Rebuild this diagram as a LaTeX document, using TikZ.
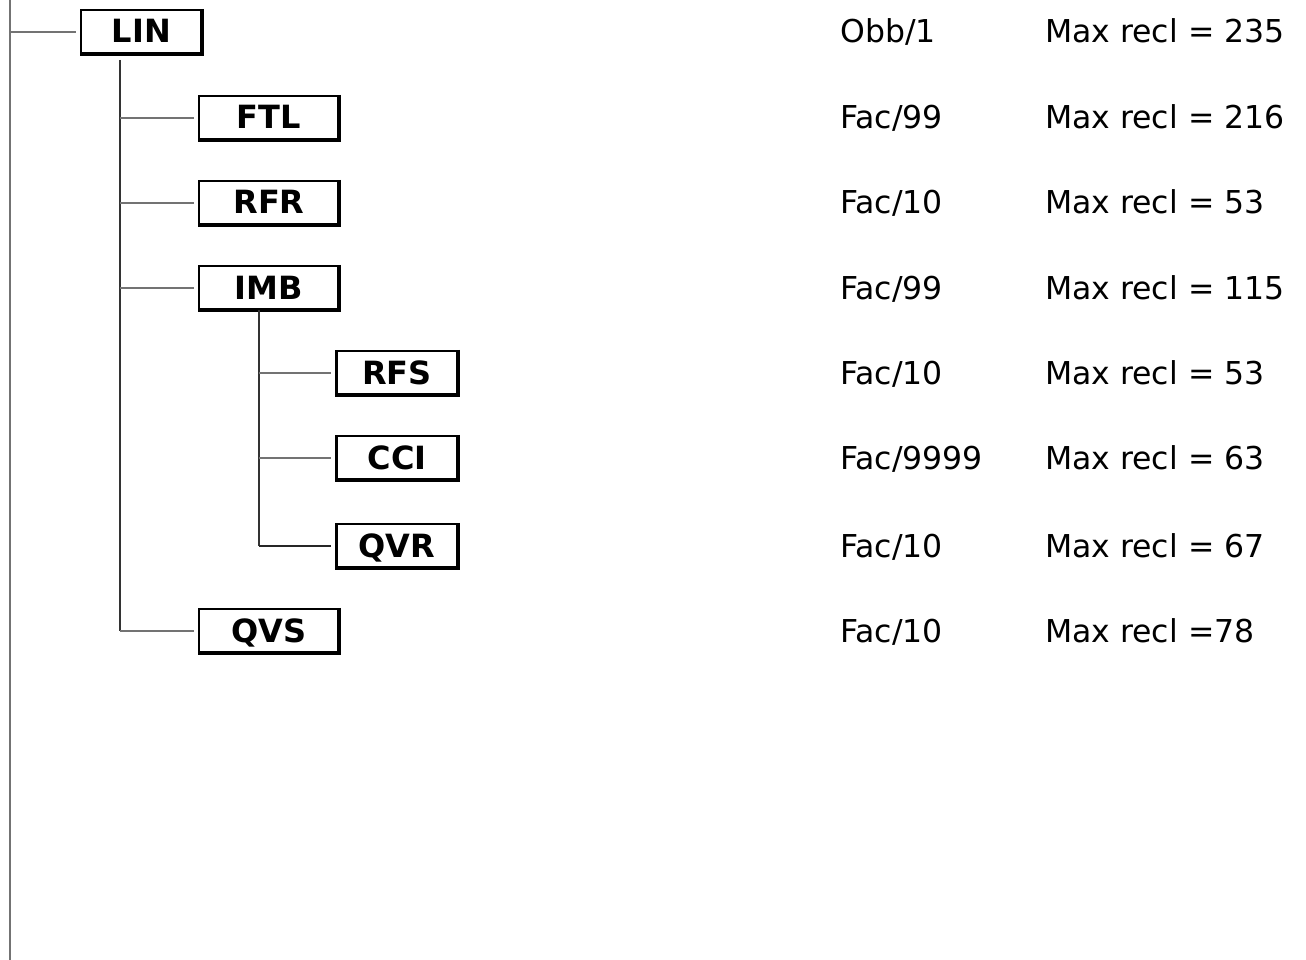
\documentclass[tikz,border=0pt]{standalone}
\usepackage{fontspec}
\setmainfont{DejaVu Sans}
\usetikzlibrary{positioning}

\begin{document}
\begin{tikzpicture}[x=1pt, y=-1pt,
		every node/.style={font=\fontsize{31.5}{36}\selectfont},
		recbox/.style={draw, line width=2.2pt, minimum height=44pt, inner sep=0pt, text height=23pt, text depth=1pt, font=\fontsize{32}{36}\selectfont\bfseries},
		wide/.style={recbox, minimum width=140pt},
		narrow/.style={recbox, minimum width=121pt},
		branch/.style={draw=black!55, line width=1.4pt, shorten >=4pt},
		trunk/.style={draw=black!80, line width=1.8pt},
		info/.style={anchor=west, inner sep=0pt, text height=22pt, text depth=0pt}]
		\useasboundingbox (0,0) rectangle (1306,960);
		% record boxes
		\node[narrow] (lin) at (141.5,32) {LIN};
		\node[wide] (ftl) at (269,118) {FTL};
		\node[wide] (rfr) at (269,203) {RFR};
		\node[wide] (imb) at (269,288) {IMB};
		\node[narrow] (rfs) at (397,373) {RFS};
		\node[narrow] (cci) at (397,458) {CCI};
		\node[narrow] (qvr) at (397,546) {QVR};
		\node[wide] (qvs) at (269,631) {QVS};
		\foreach \n in {lin,ftl,rfr,imb,rfs,cci,qvr,qvs}
			\draw[line width=4pt] ([xshift=-1pt]\n.north east) -- ([xshift=-1pt,yshift=1pt]\n.south east) -- ([yshift=1pt]\n.south west);
		% tree lines
		\coordinate (root) at (10,0);
		\coordinate (rootend) at (10,960);
		\coordinate (linbus) at (120,60);
		\coordinate (imbbus) at (259,310);
		\draw[draw=black!55, line width=1.8pt] (root) -- (rootend);
		\draw[branch] (root |- lin) -- (lin.west);
		\draw[trunk] (linbus) -- (linbus |- qvs);
		\draw[branch] (linbus |- ftl) -- (ftl.west);
		\draw[branch] (linbus |- rfr) -- (rfr.west);
		\draw[branch] (linbus |- imb) -- (imb.west);
		\draw[branch] (linbus |- qvs) -- (qvs.west);
		\draw[trunk] (imbbus) -- (imbbus |- qvr);
		\draw[branch] (imbbus |- rfs) -- (rfs.west);
		\draw[branch] (imbbus |- cci) -- (cci.west);
		\draw[branch, draw=black!85] (imbbus |- qvr) -- (qvr.west);
		% record info
		\foreach \n/\t/\m in {lin/Obb\slash 1/Max recl = 235, ftl/Fac\slash 99/Max recl = 216,
			rfr/Fac\slash 10/Max recl = 53, imb/Fac\slash 99/Max recl = 115,
			rfs/Fac\slash 10/Max recl = 53, cci/Fac\slash 9999/Max recl = 63,
			qvr/Fac\slash 10/Max recl = 67, qvs/Fac\slash 10/Max recl =78} {
			\node[info] (\n-type) at (840,0 |- \n) {\t};
			\node[info] (\n-len) at (1045,0 |- \n) {\m};
		}
	\end{tikzpicture}
\end{document}
